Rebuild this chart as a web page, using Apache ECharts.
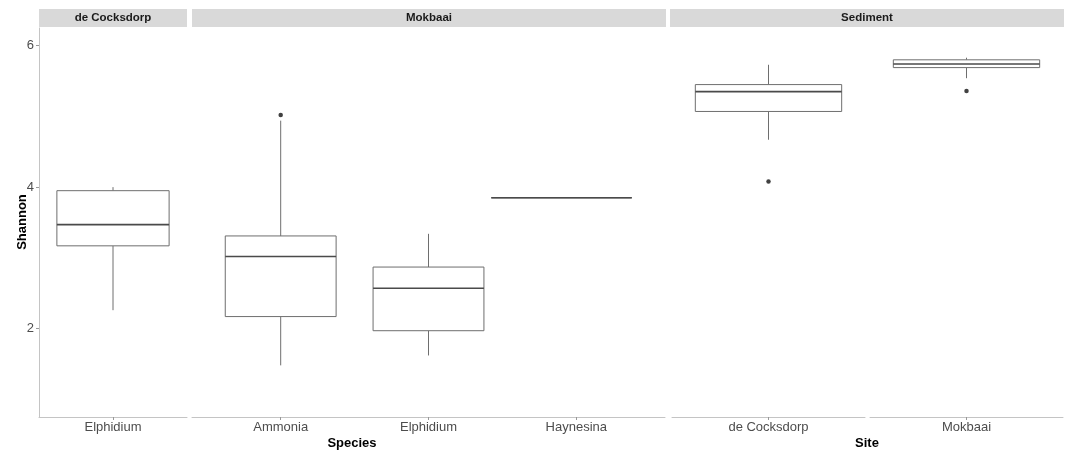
<!DOCTYPE html>
<html>
<head>
<meta charset="utf-8">
<script src="https://cdn.jsdelivr.net/npm/echarts@6/dist/echarts.min.js"></script>
<style>
  html, body { margin: 0; padding: 0; background: #ffffff; }
  #chart { width: 1070px; height: 452px; }
</style>
</head>
<body>
<div id="chart"></div>
<script>
// ---- data ----
const stripLabels = ['de Cocksdorp', 'Mokbaai', 'Sediment'];
const speciesDeCocksdorp = ['Elphidium'];
const speciesMokbaai = ['Ammonia', 'Elphidium', 'Haynesina'];
const sedimentSites = ['de Cocksdorp', 'Mokbaai'];
const yTicks = [2, 4, 6];
// box stats: [lower whisker, Q1, median, Q3, upper whisker]
const statsDeCocksdorp = [[2.26, 3.17, 3.47, 3.95, 4.00]];
const statsMokbaai = [
  [1.48, 2.17, 3.02, 3.31, 4.94],
  [1.62, 1.97, 2.57, 2.87, 3.34],
  [3.85, 3.85, 3.85, 3.85, 3.85]
];
const statsSediment = [
  [4.67, 5.07, 5.35, 5.45, 5.73],
  [5.54, 5.69, 5.74, 5.80, 5.83]
];
// outliers: [category index, value]
const outliersDeCocksdorp = [];
const outliersMokbaai = [[0, 5.02]];
const outliersSediment = [[0, 4.08], [1, 5.36]];

// ---- helpers ----
const FONT = '"Liberation Sans", Arial, Helvetica, sans-serif';
const AXIS_GREY = '#c4c4c4';
const TEXT_GREY = '#4d4d4d';

function boxRows(stats) { return stats.map((s, i) => [i + 1].concat(s)); }
function outRows(outs) { return outs.map(o => [o[0] + 1, o[1]]); }

// boxW / dx: per-category box width and horizontal nudge (axis units) - styling only
function makeRender(boxW, dx) {
  return function (params, api) {
    const i = params.dataIndex;
    const w = boxW[i];
    const x = api.value(0);
    const lo = api.coord([x, api.value(1)]);
    const q1 = api.coord([x, api.value(2)]);
    const md = api.coord([x, api.value(3)]);
    const q3 = api.coord([x, api.value(4)]);
    const hi = api.coord([x, api.value(5)]);
    const half = api.size([w, 0])[0] / 2;
    const cx = md[0] + api.size([dx[i], 0])[0] * Math.sign(dx[i] || 0);
    const lineStyle = { stroke: '#6e6e6e', lineWidth: 1, fill: null };
    return {
      type: 'group',
      children: [
        { type: 'line', shape: { x1: cx, y1: q1[1], x2: cx, y2: lo[1] }, style: lineStyle },
        { type: 'line', shape: { x1: cx, y1: q3[1], x2: cx, y2: hi[1] }, style: lineStyle },
        { type: 'rect', shape: { x: cx - half, y: q3[1], width: 2 * half, height: q1[1] - q3[1] },
          style: { stroke: '#6e6e6e', lineWidth: 1, fill: '#ffffff' } },
        { type: 'line', shape: { x1: cx - half, y1: md[1], x2: cx + half, y2: md[1] },
          style: { stroke: '#4a4a4a', lineWidth: 1.6 } }
      ]
    };
  };
}

// panel definitions (categories, stats, outliers, box styling)
const panelDefs = [
  { cats: speciesDeCocksdorp, stats: statsDeCocksdorp, outs: outliersDeCocksdorp, boxW: [0.91], dx: [0] },
  { cats: speciesMokbaai, stats: statsMokbaai, outs: outliersMokbaai, boxW: [0.75, 0.75, 0.95], dx: [0, 0, -0.1] },
  { cats: [sedimentSites[0]], stats: [statsSediment[0]], outs: outliersSediment.filter(o => o[0] === 0), boxW: [0.91], dx: [0] },
  { cats: [sedimentSites[1]], stats: [statsSediment[1]], outs: outliersSediment.filter(o => o[0] === 1).map(o => [0, o[1]]), boxW: [0.91], dx: [0] }
];

const gridBoxes = [
  { left: 39, width: 148 },
  { left: 192, width: 473 },
  { left: 672, width: 193 },
  { left: 870, width: 193 }
];

const grids = gridBoxes.map(g => ({ left: g.left, width: g.width, top: 28, height: 389, containLabel: false }));

const xAxes = panelDefs.map((p, i) => {
  const ticks = p.cats.map((c, k) => k + 1);
  return {
    type: 'value', gridIndex: i, min: 0.4, max: p.cats.length + 0.6,
    splitLine: { show: false },
    axisLine: { show: true, lineStyle: { color: AXIS_GREY, width: 1 } },
    axisTick: { show: true, customValues: ticks, length: 3, lineStyle: { color: '#999' } },
    axisLabel: {
      show: true, customValues: ticks, margin: 4,
      color: TEXT_GREY, fontFamily: FONT, fontSize: 13,
      formatter: v => p.cats[Math.round(v) - 1] || ''
    }
  };
});

const yAxes = panelDefs.map((p, i) => ({
  type: 'value', gridIndex: i, min: 0.75, max: 6.25,
  splitLine: { show: false },
  axisLine: { show: i === 0, lineStyle: { color: AXIS_GREY, width: 1 } },
  axisTick: { show: i === 0, customValues: yTicks, length: 3, lineStyle: { color: '#999' } },
  axisLabel: { show: i === 0, customValues: yTicks, margin: 5, color: TEXT_GREY, fontFamily: FONT, fontSize: 13 }
}));

const series = [];
panelDefs.forEach((p, i) => {
  series.push({
    type: 'custom', xAxisIndex: i, yAxisIndex: i,
    renderItem: makeRender(p.boxW, p.dx),
    encode: { x: 0, y: [1, 2, 3, 4, 5] },
    data: boxRows(p.stats),
    silent: true
  });
  series.push({
    type: 'scatter', xAxisIndex: i, yAxisIndex: i,
    symbolSize: 4.5, itemStyle: { color: '#111' },
    data: outRows(p.outs), silent: true
  });
});

const strips = [
  { x: 39, w: 148, text: stripLabels[0] },
  { x: 192, w: 474, text: stripLabels[1] },
  { x: 670, w: 394, text: stripLabels[2] }
];

const graphic = [];
strips.forEach(s => {
  graphic.push({ type: 'rect', left: s.x, top: 9, shape: { width: s.w, height: 18 }, style: { fill: '#d9d9d9' }, silent: true });
  graphic.push({ type: 'text', x: s.x + s.w / 2, y: 18, style: {
    text: s.text, font: 'bold 11.5px ' + FONT, fill: '#1a1a1a', align: 'center', verticalAlign: 'middle' }, silent: true });
});
graphic.push({ type: 'text', x: 352, y: 443, style: { text: 'Species', font: 'bold 13px ' + FONT, fill: '#000', align: 'center', verticalAlign: 'middle' } });
graphic.push({ type: 'text', x: 867, y: 443, style: { text: 'Site', font: 'bold 13px ' + FONT, fill: '#000', align: 'center', verticalAlign: 'middle' } });
graphic.push({ type: 'text', x: 22, y: 222, rotation: Math.PI / 2, style: { text: 'Shannon', font: 'bold 13px ' + FONT, fill: '#000', align: 'center', verticalAlign: 'middle' } });

const chart = echarts.init(document.getElementById('chart'), null, { renderer: 'canvas' });
chart.setOption({
  backgroundColor: '#ffffff',
  animation: false,
  grid: grids,
  xAxis: xAxes,
  yAxis: yAxes,
  series: series,
  graphic: graphic
});
</script>
</body>
</html>
